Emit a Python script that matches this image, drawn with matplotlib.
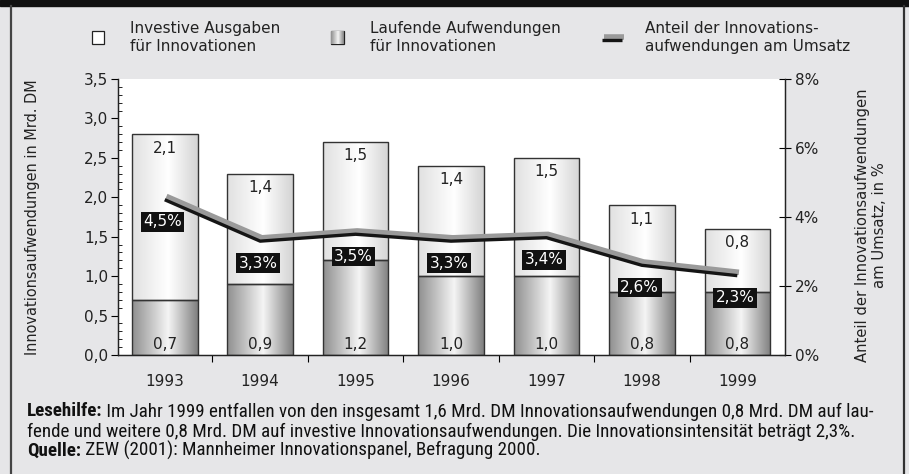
import numpy as np
import matplotlib
matplotlib.use('Agg')
import matplotlib.pyplot as plt
import matplotlib.patheffects as pe
from matplotlib.patches import Rectangle
from matplotlib.lines import Line2D

# ---------------- data ----------------
years = ['1993', '1994', '1995', '1996', '1997', '1998', '1999']
laufende = [0.7, 0.9, 1.2, 1.0, 1.0, 0.8, 0.8]      # Laufende Aufwendungen (Mrd. DM)
investive = [2.1, 1.4, 1.5, 1.4, 1.5, 1.1, 0.8]     # Investive Ausgaben (Mrd. DM)
anteil = [4.5, 3.3, 3.5, 3.3, 3.4, 2.6, 2.3]        # Anteil am Umsatz (%)
left_ticks = [0.0, 0.5, 1.0, 1.5, 2.0, 2.5, 3.0, 3.5]
right_ticks = [0, 2, 4, 6, 8]

legend_labels = ['Investive Ausgaben\nfür Innovationen',
                 'Laufende Aufwendungen\nfür Innovationen',
                 'Anteil der Innovations-\naufwendungen am Umsatz']
left_label = 'Innovationsaufwendungen in Mrd. DM'
right_label = 'Anteil der Innovationsaufwendungen\nam Umsatz, in %'
foot1_bold = 'Lesehilfe:'
foot1 = ' Im Jahr 1999 entfallen von den insgesamt 1,6 Mrd. DM Innovationsaufwendungen 0,8 Mrd. DM auf lau-'
foot2 = 'fende und weitere 0,8 Mrd. DM auf investive Innovationsaufwendungen. Die Innovationsintensität beträgt 2,3%.'
foot3_bold = 'Quelle:'
foot3 = ' ZEW (2001): Mannheimer Innovationspanel, Befragung 2000.'


def de(v):
    return f'{v:.1f}'.replace('.', ',')


W, H = 909, 474
BG = '#e6e6e8'
TXT = '#222222'
MAIN_FONT = ['DejaVu Sans']
COND_FONT = ['Roboto Condensed', 'Liberation Sans Narrow', 'Roboto', 'DejaVu Sans']
FS = 11

fig = plt.figure(figsize=(W / 100, H / 100), dpi=100, facecolor=BG)
renderer = fig.canvas.get_renderer()


def px_rect(l, t, r, b):
    return [l / W, 1 - b / H, (r - l) / W, (b - t) / H]


def fit(artist, target, dim='w'):
    fig.canvas.draw()
    e = artist.get_window_extent(renderer)
    cur = e.width if dim == 'w' else e.height
    artist.set_fontsize(artist.get_fontsize() * target / cur)


ax = fig.add_axes(px_rect(118, 79, 785, 355))
ax.set_facecolor('white')
x = np.arange(len(years))
bw = 0.687


def gradient(knots_pos, knots_val, n=200):
    t = np.linspace(0, 1, n)
    g = np.interp(t, knots_pos, knots_val)
    return np.dstack([g, g, g]).reshape(1, n, 3)


grad_low = gradient([0, 0.55, 1], [0.56, 0.96, 0.50])
grad_up = gradient([0, 0.55, 1], [0.88, 1.0, 0.83])

bars_low = ax.bar(x, laufende, bw, facecolor='none', edgecolor='#333333', linewidth=1.0, zorder=3)
bars_up = ax.bar(x, investive, bw, bottom=laufende, facecolor='none', edgecolor='#333333',
                 linewidth=1.0, zorder=3)
for bars, g in ((bars_low, grad_low), (bars_up, grad_up)):
    for p in bars:
        x0, y0 = p.get_x(), p.get_y()
        im = ax.imshow(g, extent=[x0, x0 + p.get_width(), y0, y0 + p.get_height()],
                       aspect='auto', zorder=2, interpolation='bilinear')
        im.set_clip_path(p)

ax.set_xlim(-0.49, 6.5)
ax.set_ylim(0, 3.5)

for i in range(len(years)):
    top = laufende[i] + investive[i]
    ax.annotate(de(investive[i]), xy=(x[i], top), xytext=(0, -10), textcoords='offset points',
                ha='center', va='center', fontsize=FS, color=TXT, family=MAIN_FONT, zorder=4)
    ax.annotate(de(laufende[i]), xy=(x[i], 0), xytext=(0, 7.5), textcoords='offset points',
                ha='center', va='center', fontsize=FS, color=TXT, family=MAIN_FONT, zorder=4)

ax.set_yticks(left_ticks)
ax.set_yticklabels([de(v) for v in left_ticks], family=MAIN_FONT, fontsize=FS, color=TXT)
ax.set_yticks(np.arange(0, 3.501, 0.1), minor=True)
ax.tick_params(axis='y', which='major', direction='out', length=5, width=0.8, pad=2)
ax.tick_params(axis='y', which='minor', direction='in', length=3, width=0.6)

ax.set_xticks(np.arange(0.5, 6, 1.0))
ax.set_xticklabels([])
ax.set_xticks(x, minor=True)
ax.set_xticklabels(years, minor=True, family=MAIN_FONT, fontsize=FS, color=TXT)
ax.tick_params(axis='x', which='major', direction='out', length=5, width=0.8)
ax.tick_params(axis='x', which='minor', length=0, pad=19)
for lab in ax.get_xticklabels(minor=True):
    lab.set_verticalalignment('center')
for s in ax.spines.values():
    s.set_color(TXT)
    s.set_linewidth(0.9)
ax.spines['top'].set_visible(False)

ax2 = ax.twinx()
ax2.set_ylim(0, 8)
ax2.set_yticks(right_ticks)
ax2.set_yticklabels([f'{v}%' for v in right_ticks], family=MAIN_FONT, fontsize=FS, color=TXT)
ax2.tick_params(axis='y', direction='inout', length=8, width=0.8, pad=3)
for s in ax2.spines.values():
    s.set_color(TXT)
    s.set_linewidth(0.9)
ax2.spines['top'].set_visible(False)

shadow = [pe.SimpleLineShadow(offset=(1.2, 2.4), shadow_color='#9a9a9a', alpha=1,
                              rho=1, linewidth=4.0), pe.Normal()]
ax2.plot(x, anteil, color='#151515', lw=2.4, solid_capstyle='butt', zorder=5, path_effects=shadow)
for i, v in enumerate(anteil):
    ax2.annotate(f'{de(v)}%', xy=(x[i], v), xytext=(-1.5, -16), textcoords='offset points',
                 ha='center', va='center', fontsize=FS, color='white', family=MAIN_FONT, zorder=6,
                 bbox=dict(boxstyle='square,pad=0.16', fc='#111111', ec='none'))

ylab_l = fig.text(33 / W, 1 - 217 / H, left_label, rotation=90, ha='center', va='center',
                  fontsize=10.5, color=TXT, family=MAIN_FONT)
fit(ylab_l, 277, 'h')
ylab_r = fig.text(871 / W, 1 - 225 / H, right_label, rotation=90, ha='center', va='center',
                  fontsize=10.5, color=TXT, family=MAIN_FONT, linespacing=1.15)
fit(ylab_r, 274, 'h')

# ---------- frame / legend overlay ----------
ov = fig.add_axes([0, 0, 1, 1], zorder=-1)
ov.set_xlim(0, W)
ov.set_ylim(H, 0)
ov.axis('off')
ov.add_patch(Rectangle((0, 0), W, 6, color='#111111'))
ov.plot([11, 11], [6, H], color='#444444', lw=1.6)
ov.plot([904, 904], [6, H], color='#333333', lw=1.6)

ov2 = fig.add_axes([0, 0, 1, 1], zorder=10)
ov2.set_xlim(0, W)
ov2.set_ylim(H, 0)
ov2.axis('off')
ov2.add_patch(Rectangle((92, 31), 12, 13, fc='white', ec=TXT, lw=0.9))
r = Rectangle((331, 31), 13, 13, fc='none', ec=TXT, lw=0.9)
ov2.add_patch(r)
im = ov2.imshow(grad_low, extent=[331, 344, 44, 31], aspect='auto', zorder=1)
im.set_clip_path(r)
ov2.set_xlim(0, W)
ov2.set_ylim(H, 0)
ov2.add_line(Line2D([602, 622], [40, 40], color='#151515', lw=2.4, solid_capstyle='butt',
                    path_effects=shadow))

leg_texts = []
for xx, lab in zip([130, 370, 645], legend_labels):
    leg_texts.append(ov2.text(xx, 37.5, lab, ha='left', va='center', fontsize=11, color=TXT,
                              family=MAIN_FONT, linespacing=1.2))
fig.canvas.draw()
w0 = leg_texts[0].get_window_extent(renderer).width
lfs = 11 * 150 / w0
for t in leg_texts:
    t.set_fontsize(lfs)

# ---------- footer ----------


def footer(fsz):
    t1 = fig.text(27 / W, 1 - 411.5 / H, foot1_bold, ha='left', va='center', fontsize=fsz,
                  weight='bold', family=COND_FONT, color='#111111')
    a1 = ov2.annotate(foot1, xy=(1, 0.5), xycoords=t1, ha='left', va='center', fontsize=fsz,
                      family=COND_FONT, color='#111111')
    t2 = fig.text(27 / W, 1 - 431.5 / H, foot2, ha='left', va='center', fontsize=fsz,
                  family=COND_FONT, color='#111111')
    t3 = fig.text(27 / W, 1 - 450.5 / H, foot3_bold, ha='left', va='center', fontsize=fsz,
                  weight='bold', family=COND_FONT, color='#111111')
    a3 = ov2.annotate(foot3, xy=(1, 0.5), xycoords=t3, ha='left', va='center', fontsize=fsz,
                      family=COND_FONT, color='#111111')
    return [t1, a1, t2, t3, a3]


fs = 10.5
arts = footer(fs)
fig.canvas.draw()
ext = arts[1].get_window_extent(renderer)
w_now = ext.x1 - arts[0].get_window_extent(renderer).x0
for a in arts:
    a.remove()
fs = fs * (879 - 27) / w_now
footer(fs)

fig.savefig('out.png', dpi=100, facecolor=BG)
